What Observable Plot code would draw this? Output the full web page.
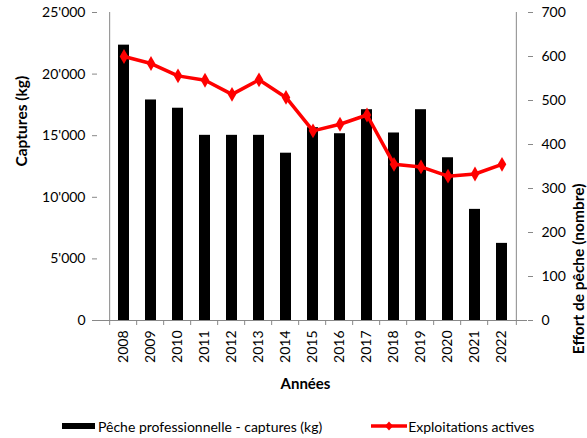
<!DOCTYPE html>
<html>
<head>
<meta charset="utf-8">
<script src="https://cdn.jsdelivr.net/npm/d3@7"></script>
<script src="https://cdn.jsdelivr.net/npm/@observablehq/plot@0.6"></script>
<style>
  body { margin: 0; background: #fff; font-family: Lato, "Open Sans", sans-serif; }
  #chart { width: 587px; height: 438px; }
  .legend { display: flex; align-items: center; height: 20px; margin-top: 11px; padding-left: 62px; font-size: 14px; color: #000; }
  .legend .item { display: flex; align-items: center; }
  .legend .sw-bar { width: 33px; height: 6px; background: #000; margin-right: 3px; }
  .legend svg { margin-right: 0; }
</style>
</head>
<body>
<div id="chart"></div>
<script>
const years = ["2008","2009","2010","2011","2012","2013","2014","2015","2016","2017","2018","2019","2020","2021","2022"];
const captures = [22350, 17900, 17230, 15030, 15030, 15030, 13580, 15650, 15160, 17110, 15220, 17110, 13210, 9020, 6260];
const exploitations = [600, 584, 556, 546, 514, 547, 507, 431, 446, 467, 355, 349, 328, 333, 355];
const leftTicks = [0, 5000, 10000, 15000, 20000, 25000];
const rightTicks = [0, 100, 200, 300, 400, 500, 600, 700];
const seriesNames = ["Pêche professionnelle - captures (kg)", "Exploitations actives"];
const axisTitles = { x: "Années", yLeft: "Captures (kg)", yRight: "Effort de pêche (nombre)" };

const W = 587, H = 405;
const mL = 97, mR = 60, mT = 12, mB = 85;
const leftMax = 25000, rightMax = 700;
const k = leftMax / rightMax;
const step = (W - mL - mR) / years.length;
const fmt = d3.formatLocale({decimal: ".", thousands: "'", grouping: [3], currency: ["", ""]}).format(",");
const axisGray = "#888888";

const rows = years.map((y, i) => ({year: y, cap: captures[i], exp: exploitations[i] * k}));

const plot = Plot.plot({
  width: W, height: H,
  marginLeft: mL, marginRight: mR, marginTop: mT, marginBottom: mB,
  style: { fontFamily: "Lato, 'Open Sans', sans-serif", fontSize: "14px", color: "#000", background: "#fff" },
  x: { type: "band", domain: years, padding: 0.6, label: null },
  y: { domain: [0, leftMax], label: null },
  marks: [
    Plot.barY(rows, {x: "year", y: "cap", fill: "#000"}),
    // axis lines
    Plot.ruleY([0], {stroke: axisGray, strokeWidth: 1}),
    Plot.ruleX([years[0]], {x: d => d, y1: 0, y2: leftMax, dx: -step / 2, stroke: axisGray}),
    Plot.ruleX([years[years.length - 1]], {x: d => d, y1: 0, y2: leftMax, dx: step / 2, stroke: axisGray}),
    // x ticks at band boundaries
    Plot.ruleX(years, {x: d => d, y1: 0, y2: 0, insetBottom: -5, dx: -step / 2, stroke: axisGray}),
    Plot.ruleX([years[years.length - 1]], {x: d => d, y1: 0, y2: 0, insetBottom: -5, dx: step / 2, stroke: axisGray}),
    Plot.axisX({tickRotate: -90, tickSize: 0, tickPadding: 10, label: null, fill: "#000"}),
    Plot.axisY(leftTicks, {anchor: "left", tickFormat: fmt, tickSize: 5, tickPadding: 7, stroke: axisGray, fill: "#000", label: null}),
    Plot.axisY(rightTicks.map(v => v * k), {anchor: "right", tickFormat: d => String(Math.round(d / k)), tickSize: 5, tickPadding: 9, stroke: axisGray, fill: "#000", label: null}),
    Plot.line(rows, {x: "year", y: "exp", stroke: "#ff0000", strokeWidth: 3.5}),
    Plot.dot(rows, {x: "year", y: "exp", symbol: "diamond", r: 4.5, fill: "#ff0000", stroke: "none"}),
    Plot.text([axisTitles.x], {frameAnchor: "bottom", dy: 68, fontWeight: "bold", fontSize: 15, dx: -7}),
    Plot.text([axisTitles.yLeft], {frameAnchor: "left", rotate: -90, dx: -75, fontWeight: "bold", fontSize: 15.5}),
    Plot.text([axisTitles.yRight], {frameAnchor: "right", rotate: -90, dx: 52, dy: 17, fontWeight: "bold", fontSize: 15.5})
  ]
});

const chart = document.getElementById("chart");
chart.appendChild(plot);

const legend = document.createElement("div");
legend.className = "legend";
legend.innerHTML = `
  <div class="item"><span class="sw-bar"></span><span>${seriesNames[0]}</span></div>
  <div class="item" style="margin-left:49px">
    <svg width="37" height="12"><line x1="0" y1="6" x2="36" y2="6" stroke="#ff0000" stroke-width="3.5"/><path d="M18,1.5 L22,6 L18,10.5 L14,6 Z" fill="#ff0000"/></svg>
    <span>${seriesNames[1]}</span>
  </div>`;
chart.appendChild(legend);
</script>
</body>
</html>
